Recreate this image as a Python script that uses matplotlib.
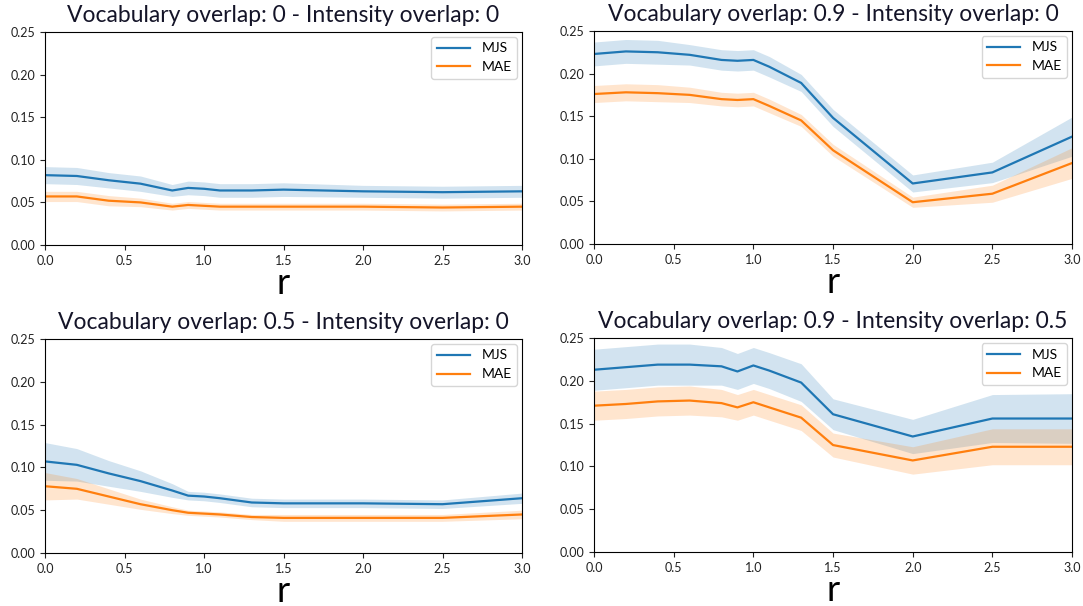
import numpy as np
import matplotlib.pyplot as plt

r = [0.0, 0.2, 0.4, 0.6, 0.8, 0.9, 1.0, 1.1, 1.3, 1.5, 2.0, 2.5, 3.0]

titles = ['Vocabulary overlap: 0 - Intensity overlap: 0',
          'Vocabulary overlap: 0.9 - Intensity overlap: 0',
          'Vocabulary overlap: 0.5 - Intensity overlap: 0',
          'Vocabulary overlap: 0.9 - Intensity overlap: 0.5']

# vocab 0, intensity 0
mjs_00 = [0.082, 0.081, 0.076, 0.072, 0.064, 0.067, 0.066, 0.064, 0.064, 0.065, 0.063, 0.062, 0.063]
mjs_00_sd = [0.010, 0.010, 0.009, 0.009, 0.007, 0.008, 0.008, 0.008, 0.008, 0.008, 0.007, 0.007, 0.007]
mae_00 = [0.057, 0.057, 0.052, 0.050, 0.045, 0.047, 0.046, 0.045, 0.045, 0.045, 0.045, 0.044, 0.045]
mae_00_sd = [0.006, 0.006, 0.006, 0.005, 0.004, 0.004, 0.004, 0.004, 0.004, 0.004, 0.004, 0.004, 0.004]

# vocab 0.9, intensity 0
mjs_90 = [0.223, 0.226, 0.225, 0.222, 0.216, 0.215, 0.216, 0.208, 0.189, 0.148, 0.071, 0.084, 0.126]
mjs_90_sd = [0.014, 0.014, 0.014, 0.012, 0.012, 0.012, 0.012, 0.012, 0.010, 0.010, 0.010, 0.012, 0.023]
mae_90 = [0.176, 0.178, 0.177, 0.175, 0.170, 0.169, 0.170, 0.162, 0.145, 0.110, 0.049, 0.059, 0.095]
mae_90_sd = [0.010, 0.010, 0.010, 0.009, 0.008, 0.008, 0.008, 0.008, 0.007, 0.007, 0.006, 0.010, 0.018]

# vocab 0.5, intensity 0
mjs_50 = [0.107, 0.103, 0.093, 0.084, 0.073, 0.067, 0.066, 0.064, 0.059, 0.058, 0.058, 0.057, 0.064]
mjs_50_sd = [0.022, 0.019, 0.015, 0.012, 0.008, 0.005, 0.005, 0.005, 0.005, 0.005, 0.005, 0.005, 0.006]
mae_50 = [0.078, 0.075, 0.066, 0.057, 0.050, 0.047, 0.046, 0.045, 0.042, 0.041, 0.041, 0.041, 0.045]
mae_50_sd = [0.016, 0.012, 0.009, 0.006, 0.004, 0.003, 0.003, 0.003, 0.003, 0.004, 0.004, 0.004, 0.005]

# vocab 0.9, intensity 0.5
mjs_95 = [0.213, 0.216, 0.219, 0.219, 0.217, 0.211, 0.218, 0.212, 0.198, 0.161, 0.135, 0.156, 0.156]
mjs_95_sd = [0.024, 0.024, 0.024, 0.024, 0.022, 0.021, 0.021, 0.021, 0.022, 0.018, 0.020, 0.028, 0.029]
mae_95 = [0.171, 0.173, 0.176, 0.177, 0.174, 0.169, 0.175, 0.169, 0.157, 0.125, 0.107, 0.123, 0.123]
mae_95_sd = [0.017, 0.017, 0.017, 0.017, 0.016, 0.015, 0.015, 0.015, 0.015, 0.014, 0.016, 0.021, 0.021]

panels = [(mjs_00, mjs_00_sd, mae_00, mae_00_sd),
          (mjs_90, mjs_90_sd, mae_90, mae_90_sd),
          (mjs_50, mjs_50_sd, mae_50, mae_50_sd),
          (mjs_95, mjs_95_sd, mae_95, mae_95_sd)]

plt.rcParams['font.family'] = ['Lato', 'DejaVu Sans']

fig = plt.figure(figsize=(10.83, 6.06), dpi=100)
boxes = [[0.0416, 0.5957, 0.4404, 0.3515],
         [0.5485, 0.5974, 0.4414, 0.3515],
         [0.0416, 0.0875, 0.4404, 0.3530],
         [0.5485, 0.0891, 0.4414, 0.3530]]

x = np.array(r)
for box, title, (mjs, mjs_sd, mae, mae_sd) in zip(boxes, titles, panels):
    ax = fig.add_axes(box)
    mjs, mjs_sd = np.array(mjs), np.array(mjs_sd)
    mae, mae_sd = np.array(mae), np.array(mae_sd)
    ax.plot(x, mjs, color='#1f77b4', linewidth=1.6, label='MJS')
    ax.fill_between(x, mjs - mjs_sd, mjs + mjs_sd, color='#1f77b4', alpha=0.2, linewidth=0)
    ax.plot(x, mae, color='#ff7f0e', linewidth=1.6, label='MAE')
    ax.fill_between(x, mae - mae_sd, mae + mae_sd, color='#ff7f0e', alpha=0.2, linewidth=0)
    ax.set_xlim(0, 3)
    ax.set_ylim(0, 0.25)
    ax.set_xticks([0, 0.5, 1.0, 1.5, 2.0, 2.5, 3.0])
    ax.set_yticks([0, 0.05, 0.10, 0.15, 0.20, 0.25])
    ax.yaxis.set_major_formatter(plt.FormatStrFormatter('%.2f'))
    ax.xaxis.set_major_formatter(plt.FormatStrFormatter('%.1f'))
    ax.tick_params(labelsize=9, colors='#222222')
    ax.set_title(title, fontsize=16.5, color='#141428', pad=7)
    ax.set_xlabel('r', fontsize=26, labelpad=0)
    ax.legend(loc='upper right', fontsize=10, handlelength=2.4, borderaxespad=0.35)

plt.savefig('out.png', dpi=100)
